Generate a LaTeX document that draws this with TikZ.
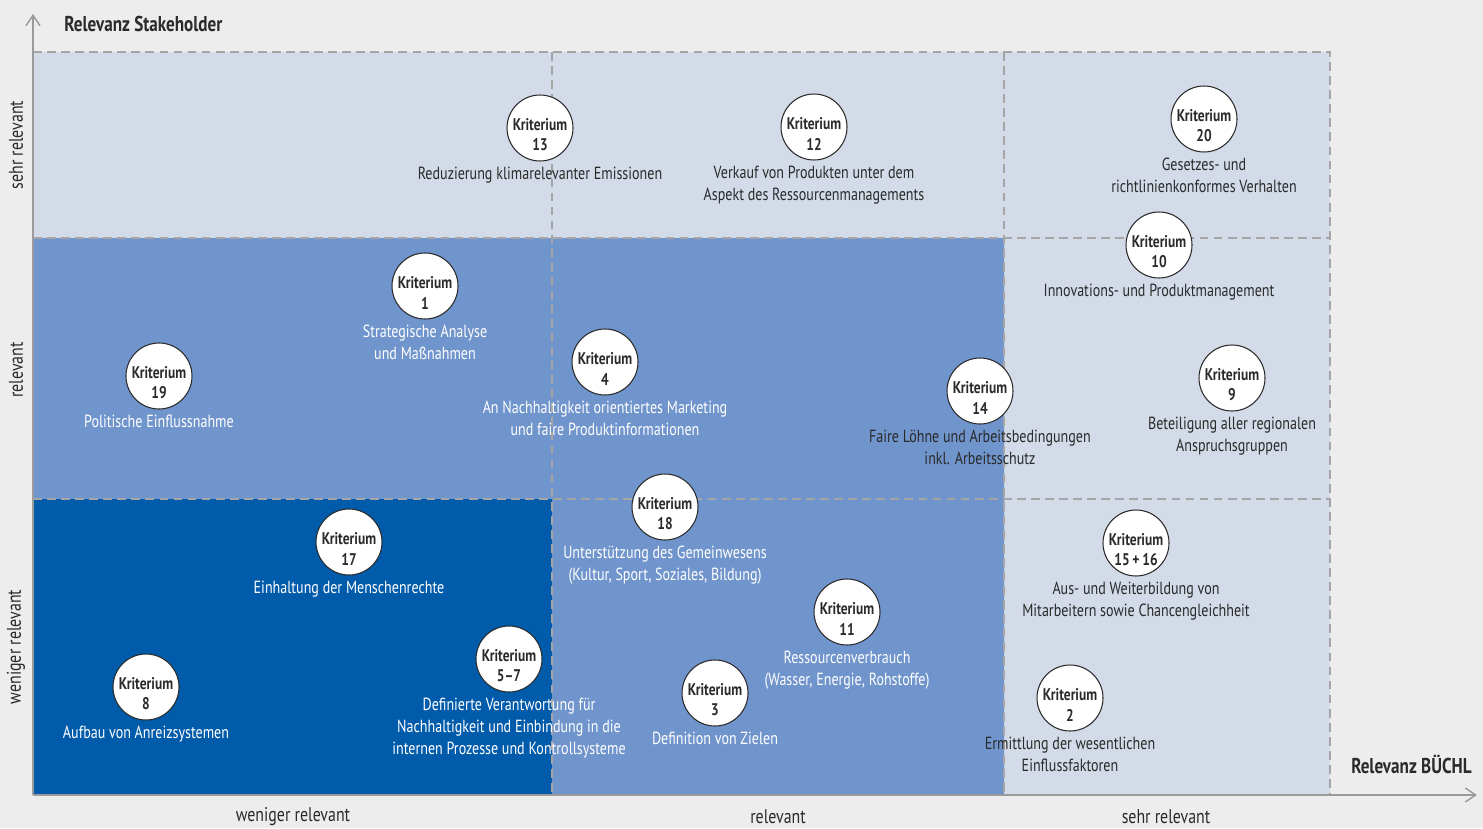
\documentclass[tikz,border=0pt]{standalone}
\usepackage{fontspec}
\setmainfont[FakeStretch=0.8]{PT Sans}
\usetikzlibrary{arrows.meta}
\definecolor{bg}{HTML}{EDEDED}
\definecolor{light}{HTML}{D3DBE8}
\definecolor{mid}{HTML}{7094CC}
\definecolor{deep}{HTML}{005BAA}
\definecolor{grid}{HTML}{A5A5A5}
\definecolor{ink}{HTML}{2A2A2A}
\definecolor{axis}{HTML}{9B9B9B}

\begin{document}
\begin{tikzpicture}[x=0.02cm,y=-0.02cm,
  every node/.style={font=\fontsize{10}{12.5}\selectfont,text=ink},
  krit/.style={draw=ink,circle,fill=white,line width=0.6pt,minimum size=1.32cm,inner sep=0pt},
  kname/.style={font=\bfseries\fontsize{9.6}{11.4}\selectfont,align=center,inner sep=0pt},
  desc/.style={align=center,inner sep=0pt,anchor=north},
  tick/.style={font=\fontsize{11.3}{13}\selectfont,inner sep=0pt},
  title/.style={font=\bfseries\fontsize{12.2}{14}\selectfont,inner sep=0pt},
  gridline/.style={draw=grid,line width=0.8pt,dash pattern=on 5pt off 3pt},
  axisline/.style={draw=axis,line width=0.8pt,-{Straight Barb[length=6pt,width=8pt]}}]
  \fill[bg] (0,0) rectangle (1483,828);
  \useasboundingbox (0,0) rectangle (1483,828);
  \fill[light] (33,52) rectangle (1330,795);
  \fill[mid] (33,238) rectangle (1004,499) (552,499) rectangle (1004,795);
  \fill[deep] (33,499) rectangle (552,795);
  \foreach \y in {238,499}
    \draw[gridline] (33,\y) -- (1330,\y);
  \foreach \x in {552,1004}
    \draw[gridline] (\x,52) -- (\x,795);
  \draw[gridline] (33,52) -- (1330,52) -- (1330,795);
  \draw[axisline] (33,795) -- (33,14);
  \draw[axisline] (33,795) -- (1477,795);
  \node[title,anchor=west] (ytitle) at (64,24) {Relevanz Stakeholder};
  \node[title,anchor=east] (xtitle) at (1472,764) {Relevanz BÜCHL};
  \foreach \x/\t in {293/weniger relevant,778/relevant,1166/sehr relevant}
    \node[tick] (X-\x) at (\x,817) {\t};
  \foreach \y/\t in {145/sehr relevant,370/relevant,647/weniger relevant}
    \node[tick,rotate=90] (Y-\y) at (16,\y) {\t};
  \foreach \n/\x/\y/\num/\c/\txt in {
    13/540/128/13/ink/{Reduzierung klimarelevanter Emissionen},
    12/814/127/12/ink/{Verkauf von Produkten unter dem\\Aspekt des Ressourcenmanagements},
    20/1204/119/20/ink/{Gesetzes- und\\richtlinienkonformes Verhalten},
    10/1159/245/10/ink/{Innovations- und Produktmanagement},
    1/425/286/1/white/{Strategische Analyse\\und Maßnahmen},
    19/159/376/19/white/{Politische Einflussnahme},
    4/605/362/4/white/{An Nachhaltigkeit orientiertes Marketing\\und faire Produktinformationen},
    14/980/391/14/ink/{Faire Löhne und Arbeitsbedingungen\\inkl. Arbeitsschutz},
    9/1232/378/9/ink/{Beteiligung aller regionalen\\Anspruchsgruppen},
    18/665/507/18/white/{Unterstützung des Gemeinwesens\\(Kultur, Sport, Soziales, Bildung)},
    17/349/542/17/white/{Einhaltung der Menschenrechte},
    15/1136/543/15\,+\,16/ink/{Aus- und Weiterbildung von\\Mitarbeitern sowie Chancengleichheit},
    11/847/612/11/white/{Ressourcenverbrauch\\(Wasser, Energie, Rohstoffe)},
    5/509/659/5–7/white/{Definierte Verantwortung für\\Nachhaltigkeit und Einbindung in die\\internen Prozesse und Kontrollsysteme},
    8/146/687/8/white/{Aufbau von Anreizsystemen},
    3/715/693/3/white/{Definition von Zielen},
    2/1070/698/2/ink/{Ermittlung der wesentlichen\\Einflussfaktoren}}{
    \node[krit] (K-\n) at (\x,\y) {};
    \node[kname] (L-\n) at ([yshift=-1.4mm]K-\n.center) {Kriterium\\\num};
    \node[desc,text=\c] (D-\n) at ([yshift=-1mm]K-\n.south) {\txt};
  }
\end{tikzpicture}
\end{document}
